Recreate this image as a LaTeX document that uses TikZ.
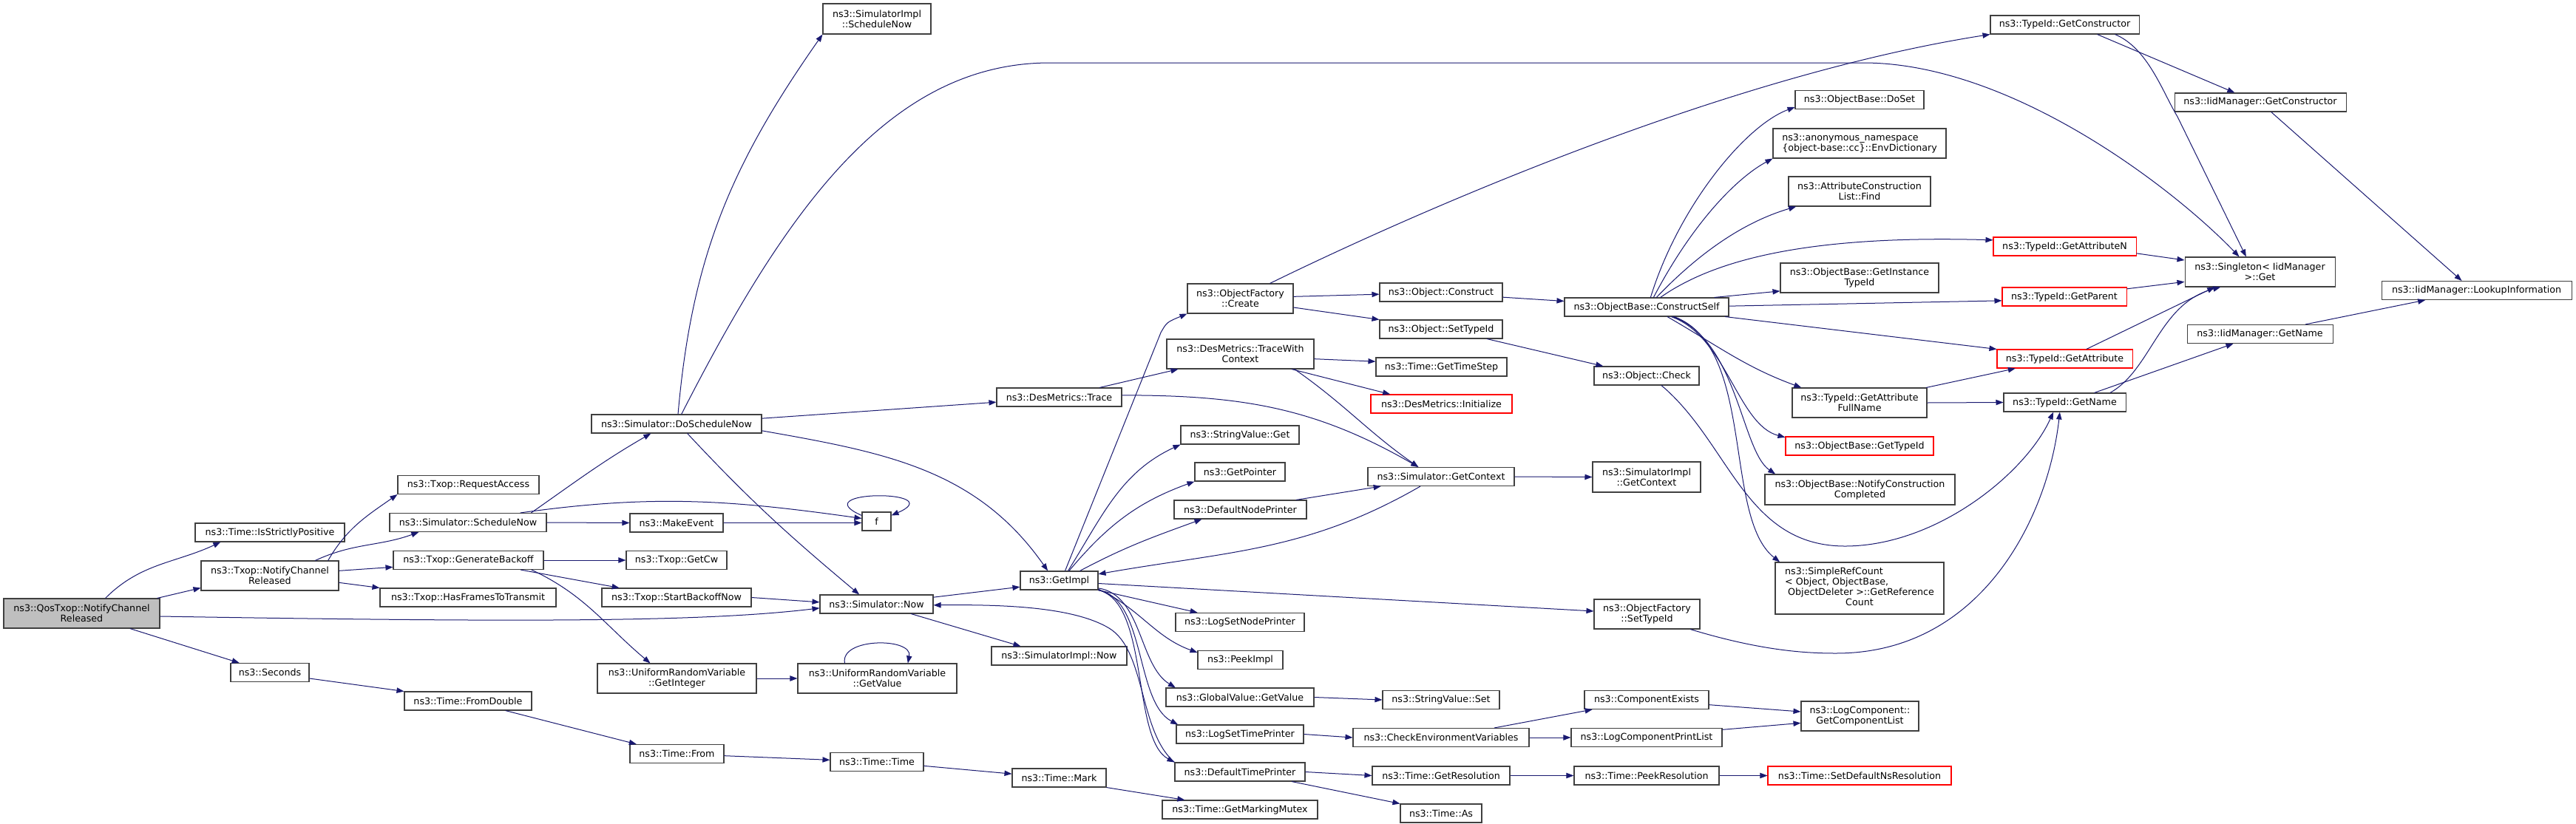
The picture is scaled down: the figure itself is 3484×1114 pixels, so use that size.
\documentclass[tikz,border=0pt]{standalone}
\usepackage{fontspec}
\setmainfont{DejaVu Sans}
\usetikzlibrary{arrows.meta}
\definecolor{edgeblue}{HTML}{191970}
\definecolor{rootgray}{HTML}{BFBFBF}
\definecolor{boxline}{HTML}{404040}
\tikzset{
  fn/.style={draw=boxline, line width=0.8pt, rectangle, inner xsep=1pt, inner ysep=1pt,
    minimum height=18.75pt, font=\fontsize{9.5}{10.5}\selectfont, align=center},
  fnred/.style={fn, draw=red},
  bw/.style={minimum width=#1*0.75pt},
  bh/.style={minimum height=#1*0.75pt},
  call/.style={draw=edgeblue, line width=0.75pt, -{Triangle[length=7.5pt,width=5.5pt]}},
}

\begin{document}
\begin{tikzpicture}[x=0.75pt,y=-0.75pt]
\path[fill=white, use as bounding box] (0,0) rectangle (3484,1114);

% functions
\node[fn, fill=rootgray, bw=211, bh=40] (root) at (110.5,830) {ns3::QosTxop::NotifyChannel\\Released};
\node[fn, bw=202] (isPos) at (365,720.5) {ns3::Time::IsStrictlyPositive};
\node[fn, bw=186, bh=40] (txNCR) at (365,779) {ns3::Txop::NotifyChannel\\Released};
\node[fn, bw=106] (seconds) at (365,910) {ns3::Seconds};
\node[fn, bw=191] (reqAcc) at (633.5,656) {ns3::Txop::RequestAccess};
\node[fn, bw=212] (schedNow) at (633,707) {ns3::Simulator::ScheduleNow};
\node[fn, bw=203] (genBack) at (633.5,758) {ns3::Txop::GenerateBackoff};
\node[fn, bw=238] (hasFrames) at (633,808.5) {ns3::Txop::HasFramesToTransmit};
\node[fn, bw=172] (fromDbl) at (633,948.5) {ns3::Time::FromDouble};
\node[fn, bw=230] (doSched) at (915,573.5) {ns3::Simulator::DoScheduleNow};
\node[fn, bw=126] (makeEv) at (915,707.5) {ns3::MakeEvent};
\node[fn, bw=136] (getCw) at (915,758) {ns3::Txop::GetCw};
\node[fn, bw=202] (startBO) at (915,808.5) {ns3::Txop::StartBackoffNow};
\node[fn, bw=215, bh=40] (urvInt) at (915.5,918) {ns3::UniformRandomVariable\\::GetInteger};
\node[fn, bw=127] (timeFrom) at (915.5,1020) {ns3::Time::From};
\node[fn, bw=146, bh=41] (implSched) at (1186,25.5) {ns3::SimulatorImpl\\::ScheduleNow};
\node[fn, bw=39] (f) at (1185.5,705.5) {f};
\node[fn, bw=153] (simNow) at (1185.5,817.5) {ns3::Simulator::Now};
\node[fn, bw=215, bh=40] (urvVal) at (1186.5,918) {ns3::UniformRandomVariable\\::GetValue};
\node[fn, bw=126] (timeTime) at (1186,1031) {ns3::Time::Time};
\node[fn, bw=169] (trace) at (1432.5,537.5) {ns3::DesMetrics::Trace};
\node[fn, bw=105] (getImpl) at (1432.5,785.5) {ns3::GetImpl};
\node[fn, bw=183] (implNow) at (1432.5,887.5) {ns3::SimulatorImpl::Now};
\node[fn, bw=127] (mark) at (1432.5,1052.5) {ns3::Time::Mark};
\node[fn, bw=143, bh=40] (create) at (1677.5,404) {ns3::ObjectFactory\\::Create};
\node[fn, bw=199, bh=40] (traceCtx) at (1677.5,479) {ns3::DesMetrics::TraceWith\\Context};
\node[fn, bw=160] (strGet) at (1677,588.5) {ns3::StringValue::Get};
\node[fn, bw=122] (getPtr) at (1677,638.5) {ns3::GetPointer};
\node[fn, bw=179] (defNode) at (1677.5,689.5) {ns3::DefaultNodePrinter};
\node[fn, bw=174] (logNode) at (1677,842) {ns3::LogSetNodePrinter};
\node[fn, bw=115] (peekImpl) at (1677.5,893) {ns3::PeekImpl};
\node[fn, bw=200] (gvGet) at (1677,943.5) {ns3::GlobalValue::GetValue};
\node[fn, bw=172] (logTime) at (1677,993.5) {ns3::LogSetTimePrinter};
\node[fn, bw=176] (defTime) at (1677,1044.5) {ns3::DefaultTimePrinter};
\node[fn, bw=210] (mutex) at (1677,1095.5) {ns3::Time::GetMarkingMutex};
\node[fn, bw=166] (construct) at (1949,395.5) {ns3::Object::Construct};
\node[fn, bw=166] (setTid) at (1949,445.5) {ns3::Object::SetTypeId};
\node[fn, bw=177] (timeStep) at (1949.5,496.5) {ns3::Time::GetTimeStep};
\node[fnred, bw=191] (desInit) at (1949.5,546.5) {ns3::DesMetrics::Initialize};
\node[fn, bw=198] (simCtx) at (1949,645) {ns3::Simulator::GetContext};
\node[fn, bw=158] (strSet) at (1949,947) {ns3::StringValue::Set};
\node[fn, bw=238] (checkEnv) at (1949,998) {ns3::CheckEnvironmentVariables};
\node[fn, bw=186] (getRes) at (1949,1049.5) {ns3::Time::GetResolution};
\node[fn, bw=110] (timeAs) at (1949,1100.5) {ns3::Time::As};
\node[fn, bw=222] (constructSelf) at (2227,415.5) {ns3::ObjectBase::ConstructSelf};
\node[fn, bw=142] (check) at (2227,508.5) {ns3::Object::Check};
\node[fn, bw=146, bh=41] (implCtx) at (2227,645.5) {ns3::SimulatorImpl\\::GetContext};
\node[fn, bw=143, bh=40] (factTid) at (2227.5,831) {ns3::ObjectFactory\\::SetTypeId};
\node[fn, bw=168] (compEx) at (2227,947) {ns3::ComponentExists};
\node[fn, bw=204] (printList) at (2227,998) {ns3::LogComponentPrintList};
\node[fn, bw=196] (peekRes) at (2227,1049.5) {ns3::Time::PeekResolution};
\node[fn, bw=174] (doSet) at (2515,135) {ns3::ObjectBase::DoSet};
\node[fn, bw=234, bh=40, align=left] (envDict) at (2515,194) {ns3::anonymous\_namespace\\\{object-base::cc\}::EnvDictionary};
\node[fn, bw=192, bh=40] (attrFind) at (2515,259) {ns3::AttributeConstruction\\List::Find};
\node[fn, bw=214, bh=40] (instTid) at (2515,376) {ns3::ObjectBase::GetInstance\\TypeId};
\node[fn, bw=182, bh=40] (attrFull) at (2515,545) {ns3::TypeId::GetAttribute\\FullName};
\node[fnred, bw=200] (baseTid) at (2515,603.5) {ns3::ObjectBase::GetTypeId};
\node[fn, bw=257, bh=41] (notify) at (2515.5,662.5) {ns3::ObjectBase::NotifyConstruction\\Completed};
\node[fn, bw=228, bh=70] (refCount) at (2515,796) {\begin{tabular}{@{}l@{}}ns3::SimpleRefCount\\< Object, ObjectBase,\\\ ObjectDeleter >::GetReference\\\multicolumn{1}{@{}c@{}}{Count}\end{tabular}};
\node[fn, bw=159, bh=40] (compList) at (2515.5,969) {ns3::LogComponent::\\GetComponentList};
\node[fnred, bw=248] (nsRes) at (2515,1049.5) {ns3::Time::SetDefaultNsResolution};
\node[fn, bw=201] (tidCons) at (2792.5,33.5) {ns3::TypeId::GetConstructor};
\node[fnred, bw=193] (attrN) at (2792.5,333.5) {ns3::TypeId::GetAttributeN};
\node[fnred, bw=168] (parent) at (2792,401.5) {ns3::TypeId::GetParent};
\node[fnred, bw=183] (attr) at (2792.5,485.5) {ns3::TypeId::GetAttribute};
\node[fn, bw=165] (tidName) at (2792.5,544.5) {ns3::TypeId::GetName};
\node[fn, bw=232] (iidCons) at (3057,138.5) {ns3::IidManager::GetConstructor};
\node[fn, bw=203, bh=40] (singleton) at (3056.5,368) {ns3::Singleton< IidManager\\ >::Get};
\node[fn, bw=197] (iidName) at (3056.5,452) {ns3::IidManager::GetName};
\node[fn, bw=257] (lookup) at (3349.5,393) {ns3::IidManager::LookupInformation};

% calls
\draw[call] ([xshift=24pt]root.north) to[out=45,in=205] ([xshift=-50pt]isPos.south);
\draw[call] ([xshift=-3pt]root.north east) -- ([yshift=3pt]txNCR.south west);
\draw[call] ([yshift=-3pt]root.east) .. controls (700,842) and (950,842) .. ([yshift=-4pt]simNow.west);
\draw[call] ([xshift=49pt]root.south) -- ([xshift=-31pt]seconds.north);

\draw[call] ([xshift=59pt]txNCR.north) to[out=60,in=215] (reqAcc.south west);
\draw[call] ([xshift=46pt]txNCR.north) to[out=25,in=200] ([xshift=-50pt]schedNow.south);
\draw[call] ([yshift=5pt]txNCR.east) -- ([yshift=-7pt]genBack.west);
\draw[call] ([yshift=-7pt]txNCR.east) -- (hasFrames.north west);

\draw[call] ([xshift=64pt]schedNow.north) to[out=35,in=210] ([xshift=-26pt]doSched.south);
\draw[call] ([xshift=53pt]schedNow.north) to[out=8,in=172] ([yshift=3pt]f.west);
\draw[call] (schedNow.east) -- (makeEv.west);
\draw[call] (makeEv.east) -- (makeEv.east -| f.west);
\draw[call] ([yshift=6pt]f.west) .. controls +(-80,-35) and +(80,-35) .. ([yshift=6pt]f.east);

\draw[call] (genBack.east) -- (getCw.west);
\draw[call] ([xshift=53pt]genBack.south) -- ([xshift=-58pt]startBO.north);
\draw[call] ([xshift=64pt]genBack.south) to[out=-25,in=140] ([xshift=-27pt]urvInt.north);
\draw[call] (startBO.east) -- ([yshift=2pt]simNow.west);

\draw[call] ([xshift=1.5pt]doSched.north) to[out=85,in=235] (implSched.south west);
\draw[call] ([xshift=5pt]doSched.north) .. controls (1060,290) and (1200,85) .. (1420,85) -- (2520,85)
  .. controls (2720,85) and (2940,255) .. ([xshift=-21pt]singleton.north);
\draw[call] ([yshift=5.5pt]doSched.east) -- ([yshift=-5pt]trace.west);
\draw[call] ([yshift=-7pt]doSched.east) to[out=-10,in=125] ([xshift=-11.5pt]getImpl.north);
\draw[call] ([xshift=11pt]doSched.south) to[out=-47,in=140] ([xshift=-17.5pt]simNow.north);

\draw[call] ([yshift=7pt]simNow.east) -- ([yshift=-6.5pt]getImpl.west);
\draw[call] ([xshift=35pt]simNow.south) -- ([xshift=-39pt]implNow.north);
\draw[call] (defTime.north west) .. controls (1540,990) and (1550,880) .. (1500,850)
  .. controls (1450,820) and (1350,818) .. ([yshift=-1pt]simNow.east);

\draw[call] ([xshift=6pt]getImpl.north) -- (1570,450) .. controls (1578,436) .. (create.south west);
\draw[call] ([xshift=9pt]getImpl.north) to[out=58,in=205] (strGet.south west);
\draw[call] ([xshift=10pt]getImpl.north) to[out=50,in=200] (getPtr.south west);
\draw[call] ([xshift=21pt]getImpl.north) to[out=28,in=200] ([xshift=-39pt]defNode.south);
\draw[call] ([xshift=-21pt]simCtx.south) to[out=-150,in=10] ([yshift=6.5pt]getImpl.east);
\draw[call] ([yshift=-3pt]getImpl.east) -- ([yshift=3pt]factTid.west);
\draw[call] (getImpl.south east) -- ([xshift=-43pt]logNode.north);
\draw[call] ([yshift=1pt]getImpl.south east) to[out=-25,in=160] ([yshift=7.5pt]peekImpl.west);
\draw[call] ([yshift=2pt]getImpl.south east) .. controls (1545,805) and (1540,900) .. ([xshift=10pt]gvGet.north west);
\draw[call] (getImpl.south east) .. controls (1550,810) and (1535,950) .. ([xshift=2pt]logTime.north west);
\draw[call] (getImpl.south east) .. controls (1555,815) and (1530,1000) .. (defTime.north west);

\draw[call] ([xshift=41pt]trace.north) -- ([xshift=-63pt]traceCtx.south);
\draw[call] ([yshift=2pt]trace.east) to[out=0,in=150] ([xshift=-23pt]simCtx.north);
\draw[call] ([yshift=-5pt]traceCtx.east) -- ([yshift=5.5pt]timeStep.west);
\draw[call] ([xshift=52pt]traceCtx.south) -- ([xshift=-52pt]desInit.north);
\draw[call] ([xshift=55pt]traceCtx.south) to[out=-35,in=145] ([xshift=-23pt]simCtx.north);
\draw[call] ([xshift=56.5pt]defNode.north) -- ([xshift=-61pt]simCtx.south);
\draw[call] (simCtx.east) -- (implCtx.west);

\draw[call] ([xshift=30pt]create.north) .. controls (1950,270) and (2350,100) .. (tidCons.south west);
\draw[call] ([yshift=2pt]create.east) -- ([yshift=-2pt]construct.west);
\draw[call] ([yshift=-9pt]create.east) -- (setTid.north west);
\draw[call] ([yshift=-5pt]construct.east) -- ([yshift=6pt]constructSelf.west);
\draw[call] ([xshift=46.5pt]setTid.south) -- ([xshift=-44pt]check.north);
\draw[call] ([xshift=15pt]check.south) .. controls (2340,600) and (2360,740) .. (2497,739)
  .. controls (2620,738) and (2740,640) .. ([xshift=-11.5pt]tidName.south);
\draw[call] ([xshift=44pt]factTid.south) .. controls (2380,880) and (2440,884) .. (2483,884)
  .. controls (2680,884) and (2770,700) .. ([xshift=-5pt]tidName.south);

\draw[call] ([xshift=4pt]constructSelf.north) .. controls (2270,280) and (2360,170) .. ([yshift=-7.5pt]doSet.west);
\draw[call] ([xshift=7pt]constructSelf.north) .. controls (2290,300) and (2350,240) .. (envDict.south west);
\draw[call] ([xshift=10pt]constructSelf.north) .. controls (2300,340) and (2360,300) .. ([xshift=8pt]attrFind.south west);
\draw[call] ([xshift=14pt]constructSelf.north) .. controls (2320,350) and (2450,318) .. ([yshift=6.5pt]attrN.west);
\draw[call] ([xshift=-15pt]constructSelf.north east) -- ([yshift=2pt]instTid.south west);
\draw[call] ([yshift=1pt]constructSelf.east) -- ([yshift=-4pt]parent.west);
\draw[call] ([xshift=-4pt]constructSelf.south east) -- (attr.north west);
\draw[call] ([xshift=21pt]constructSelf.south) to[out=-30,in=160] ([xshift=-59pt]attrFull.north);
\draw[call] ([xshift=25pt]constructSelf.south) .. controls (2335,455) and (2350,575) .. ([yshift=-1pt]baseTid.north west);
\draw[call] ([xshift=26.5pt]constructSelf.south) .. controls (2350,460) and (2355,610) .. ([xshift=11pt]notify.north west);
\draw[call] ([xshift=28pt]constructSelf.south) .. controls (2375,470) and (2330,700) .. ([xshift=5pt]refCount.north west);

\draw[call] ([xshift=-1pt]attrFull.north east) -- ([xshift=-50pt]attr.south);
\draw[call] (attrFull.east) -- (tidName.west);
\draw[call] ([yshift=-7pt]attrN.east) -- ([yshift=12pt]singleton.west);
\draw[call] ([yshift=8pt]parent.east) -- ([yshift=-10pt]singleton.west);
\draw[call] ([xshift=22pt]attr.north) -- ([xshift=-46pt]singleton.south);
\draw[call] ([xshift=46pt]tidName.north) .. controls (2910,500) and (2920,410) .. ([xshift=-40pt]singleton.south);
\draw[call] ([xshift=30pt]tidName.north) -- ([xshift=-27pt]iidName.south);
\draw[call] ([xshift=33pt]tidCons.south) -- ([xshift=-26pt]iidCons.north);
\draw[call] ([xshift=51pt]tidCons.south) .. controls (2905,65) and (2925,125) .. (2945,158) -- ([xshift=-14pt]singleton.north);
\draw[call] ([xshift=11pt]iidCons.south) -- ([xshift=-15pt]lookup.north);
\draw[call] ([xshift=46pt]iidName.north) -- ([xshift=-52pt]lookup.south);

\draw[call] (gvGet.east) -- (strSet.west);
\draw[call] (logTime.east) -- (checkEnv.west);
\draw[call] (defTime.east) -- (getRes.west);
\draw[call] ([xshift=52.5pt]defTime.south) -- (timeAs.north west);
\draw[call] ([xshift=54pt]checkEnv.north) -- ([xshift=-55pt]compEx.south);
\draw[call] (checkEnv.east) -- (printList.west);
\draw[call] ([yshift=-5pt]compEx.east) -- ([yshift=4.5pt]compList.west);
\draw[call] ([yshift=8pt]printList.east) -- ([yshift=-7pt]compList.west);
\draw[call] (getRes.east) -- (peekRes.west);
\draw[call] (peekRes.east) -- (nsRes.west);

\draw[call] ([yshift=-6pt]seconds.east) -- (fromDbl.north west);
\draw[call] ([xshift=38pt]fromDbl.south) -- ([xshift=-41pt]timeFrom.north);
\draw[call] ([yshift=-2pt]timeFrom.east) -- ([yshift=2pt]timeTime.west);
\draw[call] ([yshift=-4pt]timeTime.east) -- ([yshift=4pt]mark.west);
\draw[call] (mark.south east) -- ([xshift=-56pt]mutex.north);

\draw[call] (urvInt.east) -- (urvVal.west);
\draw[call] ([xshift=-33pt]urvVal.north) .. controls +(-7,-35) and +(7,-35) .. ([xshift=31pt]urvVal.north);
\end{tikzpicture}
\end{document}
